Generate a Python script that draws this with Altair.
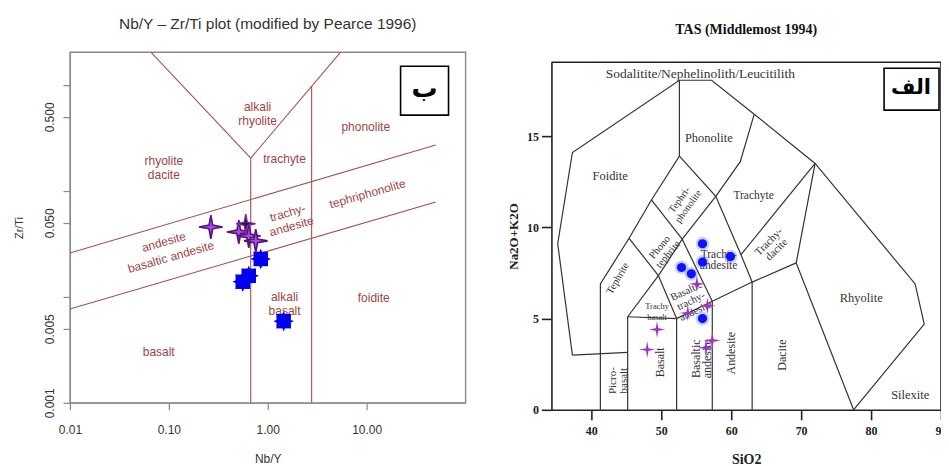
import math
import altair as alt
import pandas as pd

# ---------------- Left panel: Nb/Y vs Zr/Ti (Pearce 1996) ----------------
pearce_line_id = ["armL", "armL", "armR", "armR", "v1", "v1", "v2", "v2", "d1", "d1", "d2", "d2"]
pearce_nb_y = [0.0658, 0.673, 0.673, 5.46, 0.673, 0.673, 2.78, 2.78, 0.01, 50.0, 0.01, 50.0]
pearce_zr_ti = [2.04, 0.204, 0.204, 2.04, 0.001, 0.204, 0.001, 0.973, 0.026, 0.272, 0.0077, 0.0787]

pearce_labels = ["alkali\nrhyolite", "phonolite", "rhyolite\ndacite", "trachyte",
                 "trachy-\nandesite", "tephriphonolite", "andesite", "basaltic andesite",
                 "alkali\nbasalt", "foidite", "basalt"]
pearce_label_x = [0.79, 9.8, 0.089, 1.48, 1.59, 10.2, 0.089, 0.105, 1.48, 11.8, 0.079]
pearce_label_y = [0.62, 0.40, 0.192, 0.20, 0.062, 0.094, 0.033, 0.0238, 0.0100, 0.0098, 0.0030]
pearce_label_angle = [0, 0, 0, 0, 344, 344, 344, 344, 0, 0, 0]

left_star_nb_y = [0.266, 0.51, 0.643, 0.757]
left_star_zr_ti = [0.0457, 0.041, 0.0376, 0.0338]
left_dark_nb_y = [0.60]
left_dark_zr_ti = [0.049]
left_blue_nb_y = [0.85, 0.643, 0.559, 1.45]
left_blue_zr_ti = [0.0228, 0.0158, 0.0139, 0.0059]

# ---------------- Right panel: TAS (Middlemost 1994) ----------------
tas_line_id = (["A"] * 10 + ["B"] * 2 + ["C"] * 6 + ["D"] * 2 + ["E"] * 6 + ["F"] * 5 +
               ["G"] * 2 + ["H"] * 2 + ["I"] * 2 + ["J"] * 2 + ["K"] * 2 + ["L"] * 4 +
               ["M"] * 2 + ["N"] * 2 + ["O"] * 2 + ["P"] * 3)
tas_sio2 = [37.3, 35.2, 37.3, 52.6, 57.2, 63.3, 72.0, 86.3, 87.6, 77.5,
            37.3, 45.2,
            41.3, 41.3, 45.4, 48.6, 52.6, 52.6,
            45.2, 45.2,
            45.2, 49.6, 53.0, 57.8, 61.3, 63.3,
            45.2, 52.2, 57.3, 63.0, 69.3,
            52.2, 52.2,
            57.3, 57.3,
            63.0, 63.0,
            49.6, 52.2,
            53.0, 57.3,
            52.6, 57.8, 61.4, 63.0,
            48.6, 53.0,
            45.4, 49.6,
            61.4, 72.0,
            77.5, 69.3, 72.0]
tas_alk = [3.0, 9.1, 14.1, 18.06, 18.06, 16.2, 13.5, 6.9, 4.7, 0.0,
           3.0, 3.15,
           0.0, 6.9, 9.4, 11.5, 13.9, 18.06,
           0.0, 5.1,
           5.1, 7.35, 9.35, 11.7, 13.6, 16.2,
           5.1, 5.0, 5.95, 7.0, 8.05,
           0.0, 5.0,
           0.0, 5.95,
           0.0, 7.0,
           7.35, 5.0,
           9.35, 5.95,
           13.9, 11.7, 8.5, 7.0,
           11.5, 9.35,
           9.4, 7.35,
           8.5, 13.5,
           0.0, 8.05, 13.5]

tas_labels = ["Sodalitite/Nephelinolith/Leucitilith", "Phonolite", "Foidite", "Trachyte",
              "Tephri-\nphonolite", "Phono\ntephrite", "Tephrite", "Trachy-\nandesite",
              "Basaltic\ntrachy-\nandesite", "Trachy\nbasalt", "Picro-\nbasalt", "Basalt",
              "Basaltic\nandesite", "Andesite", "Dacite", "Rhyolite", "Trachy-\ndacite", "Silexite"]
tas_label_x = [55.6, 56.8, 42.7, 63.2, 52.6, 49.8, 43.8, 58.2, 53.6, 49.4, 43.1, 49.8,
               55.0, 60.0, 67.3, 78.6, 65.4, 85.6]
tas_label_y = [18.4, 14.9, 12.8, 11.7, 11.5, 8.9, 7.2, 8.5, 6.5, 5.7, 1.6, 2.6,
               2.8, 3.1, 3.0, 6.1, 9.2, 0.8]
tas_label_angle = [0, 0, 0, 0, 306, 310, 300, 0, 335, 0, 270, 270, 270, 270, 270, 0, 315, 0]
tas_label_size = [13.5, 12.5, 12.5, 11.5, 10, 10.5, 10.5, 11.5, 10.5, 8.5, 11, 12, 12, 12, 12, 12.5, 11, 12.5]

tas_blue_sio2 = [55.9, 59.9, 55.9, 52.9, 54.3, 55.9]
tas_blue_alk = [9.1, 8.4, 8.1, 7.8, 7.45, 5.0]
tas_star_sio2 = [55.1, 56.6, 53.8, 49.4, 48.0, 57.3, 56.4]
tas_star_alk = [6.9, 5.7, 5.3, 4.4, 3.3, 3.8, 3.4]

TAS_X = [34.3, 90.0]
TAS_Y = [0.0, 19.05]


def star_path(n, r_in):
    pts = []
    for i in range(2 * n):
        r = 1.0 if i % 2 == 0 else r_in
        a = math.pi * i / n - math.pi / 2
        pts.append(f"{r * math.cos(a):.3f},{r * math.sin(a):.3f}")
    return "M" + "L".join(pts) + "Z"


STAR4 = star_path(4, 0.22)
SPIKY = star_path(8, 0.55)

# ---------------- left chart ----------------
L_LINE = "#a3524f"
L_TEXT = "#a0443f"
GRAY = "#888888"

xs_l = alt.Scale(type="log", domain=[0.01, 100], nice=False)
ys_l = alt.Scale(type="log", domain=[0.001, 2.04], nice=False)
ax_lx = alt.Axis(values=[0.01, 0.1, 1, 10], labelExpr="format(datum.value, '.2f')",
                 grid=False, domainColor=GRAY, tickColor=GRAY, tickSize=7, tickWidth=1.2,
                 labelFont="Liberation Sans", labelFontSize=12, labelColor="#333",
                 labelPadding=15, labelFlush=False, titleFont="Liberation Sans", titleFontSize=12,
                 titleFontWeight="normal", titleColor="#333", titlePadding=18)
ax_ly = alt.Axis(values=[0.001, 0.005, 0.01, 0.05, 0.1, 0.5, 1],
                 labelExpr="indexof([0.001, 0.005, 0.05, 0.5], datum.value) >= 0 ? format(datum.value, '.3f') : ''",
                 grid=False, domainColor=GRAY, tickColor=GRAY, tickSize=7, tickWidth=1.2,
                 labelAngle=270, labelAlign="center", labelBaseline="bottom", labelFlush=False,
                 labelFont="Liberation Sans", labelFontSize=12, labelColor="#333",
                 labelPadding=6, titleFont="Liberation Sans", titleFontSize=11,
                 titleFontWeight="normal", titleColor="#333", titlePadding=19)


def lx(f):
    return alt.X(f, type="quantitative", scale=xs_l, axis=ax_lx, title="Nb/Y")


def ly(f):
    return alt.Y(f, type="quantitative", scale=ys_l, axis=ax_ly, title="Zr/Ti")


pearce_df = pd.DataFrame({"id": pearce_line_id, "x": pearce_nb_y, "y": pearce_zr_ti})
pearce_df["ord"] = pearce_df.groupby("id").cumcount()
pl_df = pd.DataFrame({"t": pearce_labels, "x": pearce_label_x, "y": pearce_label_y,
                      "a": pearce_label_angle})

l_lines = alt.Chart(pearce_df).mark_line(color=L_LINE, strokeWidth=1.1).encode(
    x=lx("x"), y=ly("y"), detail="id:N", order="ord:Q")
l_text = alt.Chart(pl_df).mark_text(font="Liberation Sans", fontSize=12, color=L_TEXT,
                                    lineBreak="\n", lineHeight=14).encode(
    x=lx("x"), y=ly("y"), text="t:N", angle=alt.Angle("a:Q", scale=None))
l_blue_spiky = alt.Chart(pd.DataFrame({"x": left_blue_nb_y, "y": left_blue_zr_ti})).mark_point(
    shape=SPIKY, filled=True, color="#0000ee", size=420, opacity=1).encode(x=lx("x"), y=ly("y"))
l_blue_sq = alt.Chart(pd.DataFrame({"x": left_blue_nb_y, "y": left_blue_zr_ti})).mark_point(
    shape="square", filled=True, color="#0000ee", size=210, opacity=1).encode(x=lx("x"), y=ly("y"))
l_stars = alt.Chart(pd.DataFrame({"x": left_star_nb_y, "y": left_star_zr_ti})).mark_point(
    shape=STAR4, filled=True, fill="#a450d8", stroke="#5a1080", strokeWidth=1.6,
    size=560, opacity=1).encode(x=lx("x"), y=ly("y"))
l_dark = alt.Chart(pd.DataFrame({"x": left_dark_nb_y, "y": left_dark_zr_ti})).mark_point(
    shape=STAR4, filled=True, fill="#1a0526", stroke="#7a2aa8", strokeWidth=1.5,
    size=380, opacity=1).encode(x=lx("x"), y=ly("y"))
one = pd.DataFrame({"k": [0]})
l_box = alt.Chart(one).mark_rect(fill="white", stroke="black", strokeWidth=1.6).encode(
    x=alt.value(331), x2=alt.value(379), y=alt.value(14), y2=alt.value(63))
l_box_t = alt.Chart(one).mark_text(text="ب", font="DejaVu Sans", fontSize=26,
                                   fontWeight="bold", color="black").encode(
    x=alt.value(355), y=alt.value(37))

left = alt.layer(l_lines, l_text, l_blue_spiky, l_blue_sq, l_stars, l_dark, l_box, l_box_t).properties(
    width=396, height=351,
    title=alt.TitleParams("Nb/Y – Zr/Ti plot (modified by Pearce 1996)", font="Liberation Sans",
                          fontSize=15.5, fontWeight="normal", color="#333", offset=18),
    view=alt.ViewBackground(stroke=GRAY, strokeWidth=1.4))

# ---------------- right chart ----------------
R_H = 358          # group height; the data frame starts 10px below the group top
R_W = 390
xs_r = alt.Scale(domain=TAS_X, nice=False, zero=False)
ys_r = alt.Scale(domain=TAS_Y, nice=False, range=[R_H, 10])
ax_rx = alt.Axis(values=[40, 50, 60, 70, 80, 90], grid=False, domainColor="#222", tickColor="#222",
                 domainWidth=1.6, tickWidth=1.6, tickSize=10, labelFont="Liberation Serif",
                 labelFontSize=12, labelFontWeight="bold", labelColor="#222", labelPadding=6,
                 labelFlush=False, titleFont="Liberation Serif", titleFontSize=14,
                 titleFontWeight="bold", titleColor="#222", titlePadding=16)
ax_ry = alt.Axis(values=[0, 5, 10, 15], grid=False, domainColor="#222", tickColor="#222",
                 domainWidth=1.6, tickWidth=1.6, tickSize=10, labelFont="Liberation Serif",
                 labelFontSize=12, labelFontWeight="bold", labelColor="#222", labelPadding=3,
                 labelFlush=False, titleFont="Liberation Serif", titleFontSize=13,
                 titleFontWeight="bold", titleColor="#222", titlePadding=6)


def rx(f):
    return alt.X(f, type="quantitative", scale=xs_r, axis=ax_rx, title="SiO2")


def ry(f):
    return alt.Y(f, type="quantitative", scale=ys_r, axis=ax_ry, title="Na2O+K2O")


tas_df = pd.DataFrame({"id": tas_line_id, "x": tas_sio2, "y": tas_alk})
tas_df["ord"] = tas_df.groupby("id").cumcount()
tl_df = pd.DataFrame({"t": tas_labels, "x": tas_label_x, "y": tas_label_y,
                      "a": tas_label_angle, "s": tas_label_size})

r_lines = alt.Chart(tas_df).mark_line(color="#333", strokeWidth=1.2).encode(
    x=rx("x"), y=ry("y"), detail="id:N", order="ord:Q")
r_top = alt.Chart(one).mark_rule(color="#222", strokeWidth=1.6).encode(
    x=alt.datum(TAS_X[0], scale=xs_r), x2=alt.datum(TAS_X[1]), y=alt.datum(TAS_Y[1], scale=ys_r))
r_side = alt.Chart(one).mark_rule(color="#222", strokeWidth=1.6).encode(
    x=alt.datum(TAS_X[1], scale=xs_r), y=alt.datum(TAS_Y[0], scale=ys_r), y2=alt.datum(TAS_Y[1]))
r_text = alt.Chart(tl_df).mark_text(font="Liberation Serif", color="#333",
                                    lineBreak="\n", lineHeight=11).encode(
    x=rx("x"), y=ry("y"), text="t:N", angle=alt.Angle("a:Q", scale=None),
    size=alt.Size("s:Q", scale=None))
blue_df = pd.DataFrame({"x": tas_blue_sio2, "y": tas_blue_alk})
star_df = pd.DataFrame({"x": tas_star_sio2, "y": tas_star_alk})
r_blue_halo = alt.Chart(blue_df).mark_circle(color="#5f7dff", size=190, opacity=0.35).encode(
    x=rx("x"), y=ry("y"))
r_blue = alt.Chart(blue_df).mark_circle(color="#1010ff", size=85, opacity=1).encode(
    x=rx("x"), y=ry("y"))
r_star_halo = alt.Chart(star_df).mark_point(shape=STAR4, filled=True, color="#d58af0",
                                            size=360, opacity=0.45).encode(x=rx("x"), y=ry("y"))
r_star = alt.Chart(star_df).mark_point(shape=STAR4, filled=True, color="#9a34c8",
                                       size=240, opacity=1).encode(x=rx("x"), y=ry("y"))
r_box = alt.Chart(one).mark_rect(fill="white", stroke="black", strokeWidth=1.6).encode(
    x=alt.value(333), x2=alt.value(388), y=alt.value(16), y2=alt.value(58))
r_box_t = alt.Chart(one).mark_text(text="الف", font="DejaVu Sans", fontSize=21,
                                   fontWeight="bold", color="black").encode(
    x=alt.value(360), y=alt.value(36))

right = alt.layer(r_lines, r_top, r_side, r_text, r_blue_halo, r_blue, r_star_halo, r_star,
                  r_box, r_box_t).properties(
    width=R_W, height=R_H,
    title=alt.TitleParams("TAS (Middlemost 1994)", font="Liberation Serif", fontSize=14,
                          fontWeight="bold", color="#111", offset=15),
    view=alt.ViewBackground(stroke="transparent"))

chart = alt.hconcat(left, right, spacing=40).properties(
    padding={"left": 5, "top": 7, "right": -7, "bottom": 0},
    background="white")

chart.save("out.html", embed_options={"renderer": "svg", "actions": False})
